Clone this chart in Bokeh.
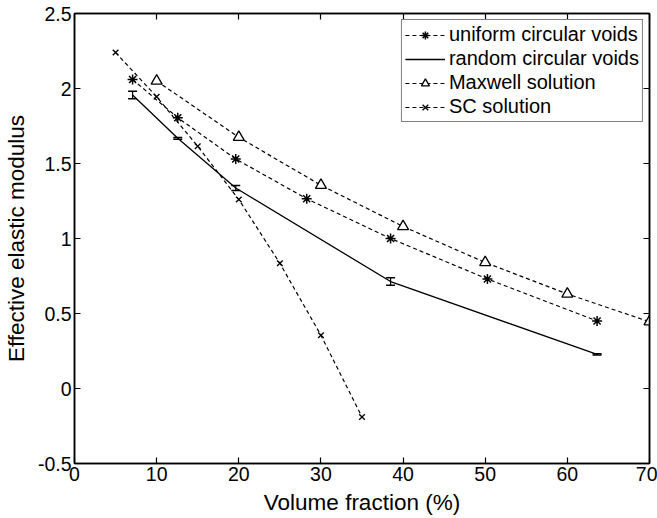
from bokeh.plotting import figure
from bokeh.models import (Range1d, LinearAxis, FixedTicker, CustomJSTickFormatter,
                          Legend, LegendItem, Whisker, TeeHead, ColumnDataSource)
from bokeh.embed import file_html
from bokeh.resources import INLINE

# ---- data ----
uniform_x = [7.07, 12.57, 19.63, 28.27, 38.48, 50.27, 63.62]
uniform_y = [2.06, 1.805, 1.53, 1.265, 1.0, 0.73, 0.45]

random_x = [7.07, 12.57, 19.63, 38.48, 63.62]
random_y = [1.957, 1.668, 1.337, 0.713, 0.227]
random_err = [0.025, 0.006, 0.017, 0.025, 0.004]

maxwell_x = [10, 20, 30, 40, 50, 60, 70]
maxwell_y = [2.05, 1.675, 1.355, 1.08, 0.84, 0.63, 0.445]

sc_x = [5, 10, 15, 20, 25, 30, 35]
sc_y = [2.24, 1.945, 1.615, 1.26, 0.835, 0.355, -0.19]

x_ticks = [0, 10, 20, 30, 40, 50, 60, 70]
y_ticks = [-0.5, 0, 0.5, 1, 1.5, 2, 2.5]

labels = ["uniform circular voids", "random circular voids", "Maxwell solution", "SC solution"]
x_label = "Volume fraction (%)"
y_label = "Effective elastic modulus"

FONT = "Liberation Sans"
DASH = "4 3"

p = figure(width=657, height=518, output_backend="svg", toolbar_location=None,
           x_range=Range1d(0, 70), y_range=Range1d(-0.5, 2.5),
           min_border_left=74, min_border_right=8, min_border_top=13, min_border_bottom=55)
p.background_fill_color = "white"
p.border_fill_color = "white"
p.grid.visible = False
p.outline_line_color = "black"
p.outline_line_width = 1.5

fmt = CustomJSTickFormatter(code="return tick.toString();")

for ax in (p.xaxis[0], p.yaxis[0]):
    ax.major_tick_in = 6
    ax.major_tick_out = 0
    ax.minor_tick_in = 0
    ax.minor_tick_out = 0
    ax.axis_line_color = "black"
    ax.axis_line_width = 1.5
    ax.major_tick_line_width = 1.2
    ax.major_label_text_font = FONT
    ax.major_label_text_font_size = "19.5px"
    ax.major_label_text_color = "black"
    ax.axis_label_text_font = FONT
    ax.axis_label_text_font_size = "22.5px"
    ax.axis_label_text_font_style = "normal"
    ax.axis_label_text_color = "black"
    ax.formatter = fmt

p.xaxis[0].ticker = FixedTicker(ticks=x_ticks)
p.yaxis[0].ticker = FixedTicker(ticks=y_ticks)
p.xaxis[0].axis_label = x_label
p.yaxis[0].axis_label = y_label
p.xaxis[0].major_label_standoff = 3
p.yaxis[0].major_label_standoff = 3
p.xaxis[0].axis_label_standoff = 6
p.yaxis[0].axis_label_standoff = 6

# ticks on top and right (box style), without labels
top = LinearAxis(ticker=FixedTicker(ticks=x_ticks), major_label_text_font_size="0px",
                 major_label_text_color=None,
                 major_tick_in=6, major_tick_out=0, minor_tick_in=0, minor_tick_out=0,
                 major_label_standoff=0, axis_line_width=1.5, major_tick_line_width=1.2)
right = LinearAxis(ticker=FixedTicker(ticks=y_ticks), major_label_text_font_size="0px",
                   major_label_text_color=None,
                   major_tick_in=6, major_tick_out=0, minor_tick_in=0, minor_tick_out=0,
                   major_label_standoff=0, axis_line_width=1.5, major_tick_line_width=1.2)
p.add_layout(top, "above")
p.add_layout(right, "right")

# uniform circular voids
u_line = p.line(uniform_x, uniform_y, line_color="black", line_width=1.2, line_dash=DASH)
u_mark = p.scatter(uniform_x, uniform_y, marker="asterisk", size=10, line_color="black", line_width=1.5)

# random circular voids with error bars
src = ColumnDataSource(dict(x=random_x, y=random_y,
                            upper=[y + e for y, e in zip(random_y, random_err)],
                            lower=[y - e for y, e in zip(random_y, random_err)]))
r_line = p.line("x", "y", source=src, line_color="black", line_width=1.3)
wh = Whisker(source=src, base="x", upper="upper", lower="lower", line_color="black", line_width=1.2,
             upper_head=TeeHead(size=9, line_color="black", line_width=1.5),
             lower_head=TeeHead(size=9, line_color="black", line_width=1.5))
p.add_layout(wh)

# Maxwell solution
m_line = p.line(maxwell_x, maxwell_y, line_color="black", line_width=1.2, line_dash=DASH)
m_mark = p.scatter(maxwell_x, maxwell_y, marker="triangle", size=11, line_color="black",
                   fill_color="white", line_width=1.3)

# SC solution
s_line = p.line(sc_x, sc_y, line_color="black", line_width=1.2, line_dash=DASH)
s_mark = p.scatter(sc_x, sc_y, marker="x", size=8, line_color="black", line_width=1.3)

legend = Legend(items=[
    LegendItem(label=labels[0], renderers=[u_line, u_mark]),
    LegendItem(label=labels[1], renderers=[r_line]),
    LegendItem(label=labels[2], renderers=[m_line, m_mark]),
    LegendItem(label=labels[3], renderers=[s_line, s_mark]),
], location="top_right")
legend.label_text_font = FONT
legend.label_text_font_size = "20px"
legend.label_text_color = "black"
legend.glyph_width = 40
legend.glyph_height = 20
legend.label_height = 20
legend.spacing = 1
legend.padding = 3
legend.margin = 6
legend.label_standoff = 4
legend.border_line_color = "black"
legend.border_line_width = 1.2
legend.background_fill_color = "white"
legend.background_fill_alpha = 1
p.add_layout(legend, "center")

open("out.html", "w").write(file_html(p, INLINE))
